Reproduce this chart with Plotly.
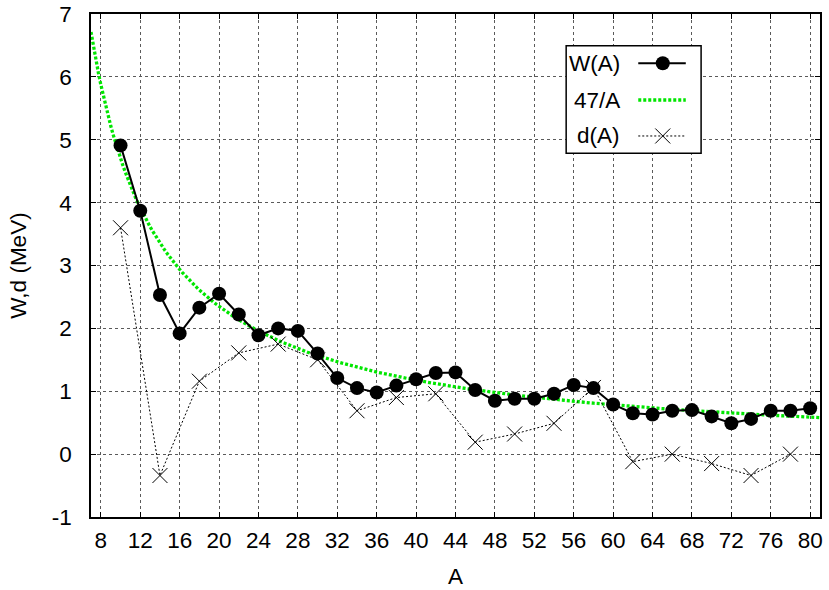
import plotly.graph_objects as go

# ---- data ----
A_W = [10, 12, 14, 16, 18, 20, 22, 24, 26, 28, 30, 32, 34, 36, 38, 40, 42, 44,
       46, 48, 50, 52, 54, 56, 58, 60, 62, 64, 66, 68, 70, 72, 74, 76, 78, 80]
W_vals = [4.91, 3.87, 2.53, 1.92, 2.33, 2.55, 2.22, 1.89, 2.00, 1.96, 1.60, 1.21,
          1.05, 0.98, 1.09, 1.19, 1.29, 1.30, 1.02, 0.85, 0.88, 0.88, 0.96, 1.10,
          1.05, 0.79, 0.65, 0.63, 0.69, 0.70, 0.60, 0.49, 0.56, 0.69, 0.69, 0.73]

A_d = [10, 14, 18, 22, 26, 30, 34, 38, 42, 46, 50, 54, 58, 62, 66, 70, 74, 78]
d_vals = [3.60, -0.34, 1.16, 1.61, 1.75, 1.50, 0.69, 0.90, 0.96, 0.19, 0.32, 0.49,
          1.06, -0.12, 0.00, -0.15, -0.34, 0.00]

# the 47/A reference curve (an analytic function named in the legend)
COEF = 47
A_curve = [7 + 0.25 * i for i in range(0, 297)]
curve_vals = [COEF / a for a in A_curve]

x_ticks = list(range(8, 81, 4))
y_ticks = list(range(-1, 8))
legend_names = ["W(A)", "47/A", "d(A)"]

FONT = "Liberation Sans, Arial, sans-serif"
FS = 22.5
GREEN = "#00e600"

fig = go.Figure()

fig.add_trace(go.Scatter(x=A_curve, y=curve_vals, mode="lines",
                         line=dict(color=GREEN, width=3.3, dash="3px,2px"),
                         name=legend_names[1], showlegend=False))
fig.add_trace(go.Scatter(x=A_d, y=d_vals, mode="lines+markers",
                         line=dict(color="black", width=1, dash="2px,2px"),
                         marker=dict(symbol="x-thin", size=15,
                                     line=dict(color="black", width=1)),
                         name=legend_names[2], showlegend=False))
fig.add_trace(go.Scatter(x=A_W, y=W_vals, mode="lines+markers",
                         line=dict(color="black", width=2),
                         marker=dict(symbol="circle", size=14, color="black"),
                         name=legend_names[0], showlegend=False))

axis_common = dict(
    showline=True, linecolor="black", linewidth=1.5, mirror="allticks",
    ticks="inside", ticklen=5, tickcolor="black", tickwidth=1,
    showgrid=True, gridcolor="rgb(90,90,90)", gridwidth=1, griddash="dot",
    zeroline=False, automargin=False, ticklabeloverflow="allow",
    tickfont=dict(family=FONT, size=FS, color="black"),
)

fig.update_xaxes(range=[7, 81], tickvals=x_ticks, ticktext=[str(v) for v in x_ticks],
                 title=dict(text="A", font=dict(family=FONT, size=FS, color="black"),
                            standoff=16),
                 ticklabelstandoff=2, **axis_common)
fig.update_yaxes(range=[-1, 7], tickvals=y_ticks, ticktext=[str(v) for v in y_ticks],
                 title=dict(text="W,d (MeV)", font=dict(family=FONT, size=FS, color="black"),
                            standoff=19),
                 ticklabelstandoff=13, **axis_common)

# ---- gnuplot-style legend (text left, sample right) ----
bx0, bx1, by0, by1 = 0.6518, 0.8369, 0.7231, 0.937
fig.add_shape(type="rect", xref="paper", yref="paper", x0=bx0, x1=bx1, y0=by0, y1=by1,
              line=dict(color="black", width=1.5), fillcolor="white", layer="above")
rows_y = [0.902, 0.829, 0.7575]
text_x = 0.7285
s0, s1, sm = 0.7507, 0.8159, 0.7843
for name, ry in zip(legend_names, rows_y):
    fig.add_annotation(x=text_x, y=ry, xref="paper", yref="paper", text=name,
                       showarrow=False, xanchor="right", yanchor="middle",
                       font=dict(family=FONT, size=FS, color="black"))
# W(A) sample
fig.add_shape(type="line", xref="paper", yref="paper", x0=s0, x1=s1, y0=rows_y[0], y1=rows_y[0],
              line=dict(color="black", width=2), layer="above")
fig.add_shape(type="circle", xref="paper", yref="paper", xsizemode="pixel", ysizemode="pixel",
              xanchor=sm, yanchor=rows_y[0], x0=-7, x1=7, y0=-7, y1=7,
              fillcolor="black", line=dict(color="black", width=0), layer="above")
# 47/A sample
fig.add_shape(type="line", xref="paper", yref="paper", x0=s0, x1=s1, y0=rows_y[1], y1=rows_y[1],
              line=dict(color=GREEN, width=3.3, dash="3px,2px"), layer="above")
# d(A) sample
fig.add_shape(type="line", xref="paper", yref="paper", x0=s0, x1=s1, y0=rows_y[2], y1=rows_y[2],
              line=dict(color="black", width=1, dash="2px,2px"), layer="above")
for sgn in (1, -1):
    fig.add_shape(type="line", xref="paper", yref="paper", xsizemode="pixel", ysizemode="pixel",
                  xanchor=sm, yanchor=rows_y[2], x0=-7.5, x1=7.5, y0=-7.5 * sgn, y1=7.5 * sgn,
                  line=dict(color="black", width=1), layer="above")

fig.update_layout(
    width=829, height=590,
    margin=dict(l=91, r=9, t=14, b=73),
    paper_bgcolor="white", plot_bgcolor="white",
    showlegend=False,
    font=dict(family=FONT, size=FS, color="black"),
)

# remove the browser's default 8px body margin so the figure fills the window
fig.write_html("out.html", config={"displayModeBar": False},
               post_script="document.body.style.margin='0';")
